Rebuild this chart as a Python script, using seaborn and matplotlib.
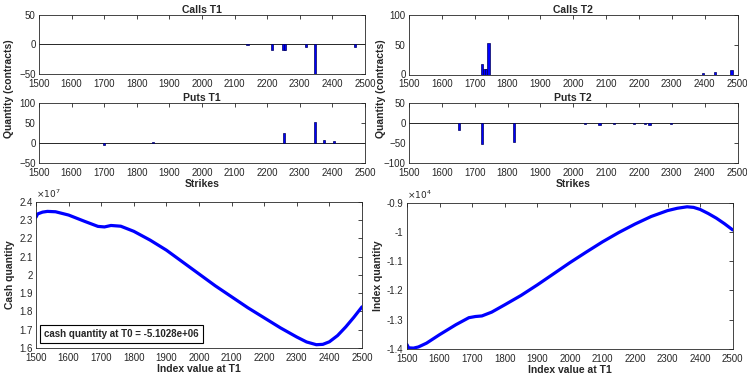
import numpy as np
import matplotlib
matplotlib.use('Agg')
import matplotlib.pyplot as plt
import seaborn as sns
from matplotlib.ticker import FuncFormatter, MultipleLocator

# bar data (strike, quantity)
calls_t1_strikes = [2140, 2215, 2250, 2255, 2320, 2347, 2470]
calls_t1_qty = [-1, -10, -10, -10, -5, -50, -4]
puts_t1_strikes = [1700, 1850, 2252, 2347, 2375, 2405]
puts_t1_qty = [-5, 2, 25, 52, 7, 6]
calls_t2_strikes = [1722, 1730, 1735, 1742, 2394, 2432, 2482]
calls_t2_qty = [18, 10, 10, 52, 2, 5, 7]
puts_t2_strikes = [1652, 1722, 1820, 2035, 2080, 2125, 2185, 2218, 2232, 2298]
puts_t2_qty = [-17, -53, -47, -3, -5, -2, -3, -3, -4, -2]

# curves at T1
index_t1 = [1500, 1505, 1520, 1535, 1560, 1600, 1650, 1690, 1710, 1730, 1760, 1800,
            1850, 1900, 1950, 2000, 2050, 2100, 2150, 2200, 2250, 2300, 2330,
            2360, 2380, 2400, 2425, 2450, 2475, 2500]
cash_qty = [2.315, 2.333, 2.343, 2.347, 2.345, 2.327, 2.292, 2.265, 2.262, 2.270, 2.266,
            2.238, 2.190, 2.135, 2.070, 2.005, 1.940, 1.880, 1.820, 1.765, 1.710,
            1.660, 1.633, 1.618, 1.620, 1.634, 1.668, 1.715, 1.768, 1.825]
index_qty = [-1.385, -1.396, -1.397, -1.393, -1.380, -1.351, -1.317, -1.293, -1.289,
             -1.287, -1.274, -1.249, -1.217, -1.181, -1.143, -1.105, -1.069, -1.034,
             -1.002, -0.973, -0.947, -0.927, -0.919, -0.914, -0.916, -0.923, -0.937,
             -0.953, -0.972, -0.993]

W, H = 747, 374
BLUE = '#0000ff'
EDGE = '#262626'

sns.set_style('white')
plt.rcParams['font.family'] = ['Liberation Sans', 'DejaVu Sans']
plt.rcParams['font.size'] = 7

fig = plt.figure(figsize=(W / 100, H / 100), dpi=100)


def px_axes(x0, y0, x1, y1):
    return fig.add_axes([x0 / W, 1 - y1 / H, (x1 - x0) / W, (y1 - y0) / H])


def style(ax):
    for s in ax.spines.values():
        s.set_color(EDGE)
        s.set_linewidth(0.6)
    ax.tick_params(direction='in', length=3, width=0.6, colors=EDGE,
                   top=True, right=True, labelsize=7)
    ax.tick_params(axis='x', pad=3.5)
    ax.tick_params(axis='y', pad=2.5)
    ax.set_xlim(1500, 2500)
    ax.xaxis.set_major_locator(MultipleLocator(100))


def bar_panel(ax, strikes, qty, title, ylim, step):
    style(ax)
    ax.bar(strikes, qty, width=7, color=BLUE, edgecolor='#00005a', linewidth=0.5, zorder=3)
    ax.axhline(0, color=EDGE, linewidth=0.7, zorder=2)
    ax.set_ylim(*ylim)
    ax.yaxis.set_major_locator(MultipleLocator(step))
    ax.set_title(title, fontsize=7.5, fontweight='bold', pad=1.5)


ax1 = px_axes(39, 14.7, 365, 74)
bar_panel(ax1, calls_t1_strikes, calls_t1_qty, 'Calls T1', (-50, 50), 50)
ax2 = px_axes(39, 103, 365, 163)
bar_panel(ax2, puts_t1_strikes, puts_t1_qty, 'Puts T1', (-50, 100), 50)
ax2.set_xlabel('Strikes', fontsize=7.5, fontweight='bold', labelpad=1)

ax3 = px_axes(409, 14.7, 737.5, 74.5)
bar_panel(ax3, calls_t2_strikes, calls_t2_qty, 'Calls T2', (0, 100), 50)
ax4 = px_axes(409, 103, 737.5, 163)
bar_panel(ax4, puts_t2_strikes, puts_t2_qty, 'Puts T2', (-100, 50), 50)
ax4.set_xlabel('Strikes', fontsize=7.5, fontweight='bold', labelpad=1)

fig.text(9 / W, 1 - 89 / H, 'Quantity (contracts)', rotation=90, ha='center',
         va='center', fontsize=7.5, fontweight='bold')
fig.text(380.5 / W, 1 - 89 / H, 'Quantity (contracts)', rotation=90, ha='center',
         va='center', fontsize=7.5, fontweight='bold')

# cash quantity
ax5 = px_axes(36, 201.7, 362, 348)
style(ax5)
sns.lineplot(x=index_t1, y=np.array(cash_qty) * 1e7, ax=ax5, color=BLUE, linewidth=2.3)
ax5.set_ylim(1.6e7, 2.4e7)
ax5.yaxis.set_major_locator(MultipleLocator(0.1e7))
ax5.yaxis.set_major_formatter(FuncFormatter(lambda v, p: f'{v / 1e7:g}'))
ax5.text(0.0, 1.01, r'$\times 10^{7}$', transform=ax5.transAxes, fontsize=6.5,
         color=EDGE, ha='left', va='bottom')
ax5.set_xlabel('Index value at T1', fontsize=7.5, fontweight='bold', labelpad=0.5)
ax5.set_ylabel('Cash quantity', fontsize=7.5, fontweight='bold', labelpad=3)
ax5.text(0.025, 0.06, 'cash quantity at T0 = -5.1028e+06', transform=ax5.transAxes,
         fontsize=7, fontweight='bold', ha='left', va='bottom',
         bbox=dict(boxstyle='square,pad=0.4', facecolor='white', edgecolor='black',
                   linewidth=0.8))

# index quantity
ax6 = px_axes(407, 202.7, 732.7, 349)
style(ax6)
sns.lineplot(x=index_t1, y=np.array(index_qty) * 1e4, ax=ax6, color=BLUE, linewidth=2.3)
ax6.set_ylim(-1.4e4, -0.9e4)
ax6.yaxis.set_major_locator(MultipleLocator(0.1e4))
ax6.yaxis.set_major_formatter(FuncFormatter(lambda v, p: f'{v / 1e4:g}'))
ax6.text(0.0, 1.01, r'$\times 10^{4}$', transform=ax6.transAxes, fontsize=6.5,
         color=EDGE, ha='left', va='bottom')
ax6.set_xlabel('Index value at T1', fontsize=7.5, fontweight='bold', labelpad=0.5)
ax6.set_ylabel('Index quantity', fontsize=7.5, fontweight='bold', labelpad=3)

fig.savefig('out.png', dpi=100, facecolor='white')
